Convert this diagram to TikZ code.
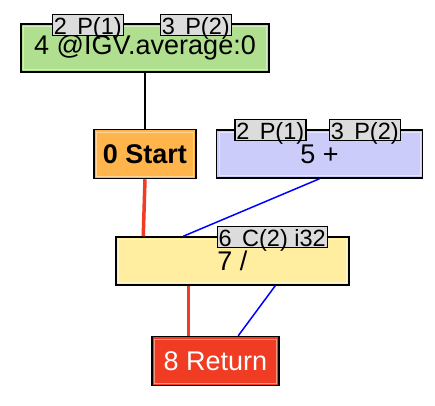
\documentclass[tikz,border=0pt]{standalone}
\usepackage{fontspec}
\setmainfont{Liberation Sans}
\usepackage{tikz}
\usetikzlibrary{positioning}

\definecolor{ldGreen}{HTML}{B0DF90}
\definecolor{startOrange}{HTML}{FFB44C}
\definecolor{addBlue}{HTML}{CCCCFA}
\definecolor{divYellow}{HTML}{FFEDA0}
\definecolor{retRed}{HTML}{F03C22}
\definecolor{tagGray}{HTML}{DCDCDC}

\tikzset{
   op/.style={draw, line width=1.5pt, inner sep=0pt,
      font=\fontsize{27}{30}\selectfont,
      path picture={\draw[white, opacity=.45, line width=1pt]
         ([shift={(2.5pt,-2.5pt)}]path picture bounding box.north west) rectangle
         ([shift={(-2.5pt,2.5pt)}]path picture bounding box.south east);}},
   tag/.style={draw, line width=1.5pt, fill=tagGray, minimum width=71pt,
      font=\fontsize{23.5}{25}\selectfont,
      text height=19pt, text depth=0pt, inner ysep=1pt, inner xsep=0pt},
   ctl/.style={draw=retRed, line width=3.5pt},
   dat/.style={draw=blue, line width=1.5pt},
}

\begin{document}
\begin{tikzpicture}[x=1pt,y=1pt]
   \useasboundingbox (0,0) rectangle (435,-405);
   \node[op, fill=ldGreen, minimum width=248pt, minimum height=48pt] (n4) at (145,-48) {4 @IGV.average:0};
   \node[op, fill=startOrange, minimum width=102pt, minimum height=49pt, font=\fontsize{27}{30}\selectfont\bfseries] (n0) [below=56pt of n4] {0 Start};
   \node[op, fill=addBlue, minimum width=206pt, minimum height=48pt] (n5) [right=19pt of n0] {5 +};
   \node[op, fill=divYellow, minimum width=233pt, minimum height=48pt] (n7) [below=57pt of n0, xshift=87.5pt] {7 /};
   \node[op, fill=retRed, text=white, minimum width=127pt, minimum height=49pt] (n8) [below=50pt of n7, xshift=-17pt] {8 Return};
   \node[tag] (t4a) at ([xshift=67.5pt,yshift=-1.5pt]n4.north west) {2 \,P(1)};
   \node[tag] (t4b) at ([xshift=175.5pt,yshift=-1.5pt]n4.north west) {3 \,P(2)};
   \node[tag] (t5a) at ([xshift=54.5pt,yshift=-0.5pt]n5.north west) {2 \,P(1)};
   \node[tag] (t5b) at ([xshift=149pt,yshift=-0.5pt]n5.north west) {3 \,P(2)};
   \node[tag, minimum width=110pt] (t7) at ([xshift=157pt,yshift=-0.5pt]n7.north west) {6 \,C(2) i32};
   \draw[line width=1.5pt] (n4.south) -- (n0.north);
   \draw[ctl] (n0.south) -- ([xshift=28pt]n7.north west);
   \draw[dat] (n5.south) -- ([xshift=68pt]n7.north west);
   \draw[ctl] ([xshift=73pt]n7.south west) -- ([xshift=37pt]n8.north west);
   \draw[dat] ([xshift=160pt]n7.south west) -- ([xshift=87pt]n8.north west);
\end{tikzpicture}
\end{document}
